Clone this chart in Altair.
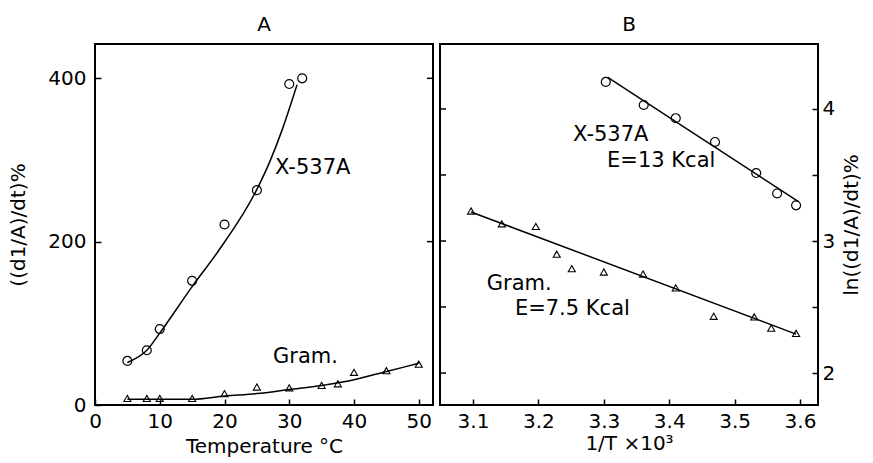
import altair as alt
import pandas as pd

FONT = "DejaVu Sans"

# ---------------- Panel A : rate vs temperature ----------------
a_x537_temp = [5, 8, 10, 15, 20, 25, 30, 32]
a_x537_rate = [54, 67, 93, 152, 221, 263, 393, 400]
a_x537_fit_temp = [5, 8, 10, 15, 19, 25, 27, 29, 31.2]
a_x537_fit_rate = [52, 67, 88, 145, 188, 264, 298, 339, 392]

a_gram_temp = [5, 8, 10, 15, 20, 25, 30, 35, 37.5, 40, 45, 50]
a_gram_rate = [8, 8, 8, 8, 14, 22, 21, 24, 26, 40, 42, 50]
a_gram_fit_temp = [5, 10, 15, 20, 25, 30, 35, 40, 45, 50]
a_gram_fit_rate = [7, 7, 7, 11, 14, 19, 24, 31, 41, 51]

a_x_ticks = [0, 10, 20, 30, 40, 50]
a_y_ticks = [0, 200, 400]

# ---------------- Panel B : Arrhenius plot ----------------
b_x537_invT = [3.303, 3.361, 3.410, 3.470, 3.533, 3.565, 3.594]
b_x537_ln = [4.205, 4.03, 3.93, 3.75, 3.515, 3.36, 3.27]
b_x537_fit_invT = [3.306, 3.597]
b_x537_fit_ln = [4.24, 3.30]

b_gram_invT = [3.097, 3.144, 3.196, 3.228, 3.251, 3.30, 3.36, 3.41, 3.468, 3.53, 3.556, 3.594]
b_gram_ln = [3.227, 3.13, 3.11, 2.90, 2.79, 2.765, 2.75, 2.645, 2.43, 2.425, 2.34, 2.30]
b_gram_fit_invT = [3.097, 3.594]
b_gram_fit_ln = [3.22, 2.295]

b_x_ticks = [3.1, 3.2, 3.3, 3.4, 3.5, 3.6]
b_y_ticks = [2, 2.5, 3, 3.5, 4]

W_A, W_B, H = 338, 378, 361
TICK = 6
LW = 1.5

def df(x, y):
    return pd.DataFrame({"x": x, "y": y})

# ---------------- encodings panel A ----------------
ax = alt.X("x:Q", scale=alt.Scale(domain=[0, 52.2], nice=False, zero=False),
           axis=alt.Axis(values=a_x_ticks, title="Temperature °C", format="d",
                         offset=-TICK, tickSize=TICK, domain=False, grid=False,
                         labelFlush=False, labelPadding=6, titlePadding=5))
ay = alt.Y("y:Q", scale=alt.Scale(domain=[0, 442], nice=False, zero=False),
           axis=alt.Axis(values=a_y_ticks, title="((d1/A)/dt)%", format="d",
                         offset=-TICK, tickSize=TICK, domain=False, grid=False,
                         labelFlush=False, labelPadding=9, titlePadding=19, titleAngle=270))

a_pts1 = alt.Chart(df(a_x537_temp, a_x537_rate)).mark_point(
    shape="circle", filled=False, color="black", size=80, strokeWidth=1.2, opacity=1
).encode(x=ax, y=ay)
a_fit1 = alt.Chart(df(a_x537_fit_temp, a_x537_fit_rate)).mark_line(
    color="black", strokeWidth=LW, interpolate="monotone"
).encode(x=ax, y=ay, order="x:Q")
a_pts2 = alt.Chart(df(a_gram_temp, a_gram_rate)).mark_point(
    shape="triangle-up", filled=False, color="black", size=50, strokeWidth=1.1, opacity=1
).encode(x=ax, y=ay)
a_fit2 = alt.Chart(df(a_gram_fit_temp, a_gram_fit_rate)).mark_line(
    color="black", strokeWidth=LW, interpolate="monotone"
).encode(x=ax, y=ay, order="x:Q")
a_rticks = alt.Chart(pd.DataFrame({"y": a_y_ticks})).mark_rule(
    color="black", strokeWidth=LW
).encode(y=ay, x=alt.value(W_A - TICK), x2=alt.value(W_A))

def label(txt, x, y):
    return alt.Chart(pd.DataFrame({"t": [txt]})).mark_text(
        align="left", baseline="middle", font=FONT, fontSize=21, color="black"
    ).encode(x=alt.datum(x), y=alt.datum(y), text="t:N")

a_lab1 = label("X-537A", 27.8, 290)
a_lab2 = label("Gram.", 27.5, 59)

title_kw = dict(fontSize=20, font=FONT, fontWeight="normal", offset=9, anchor="middle", color="black")

left = alt.layer(a_fit1, a_fit2, a_pts1, a_pts2, a_rticks, a_lab1, a_lab2).properties(
    width=W_A, height=H, title=alt.TitleParams("A", **title_kw))

# ---------------- encodings panel B ----------------
bx = alt.X("x:Q", scale=alt.Scale(domain=[3.0495, 3.6275], nice=False, zero=False),
           axis=alt.Axis(values=b_x_ticks, title="1/T ×10³", format=".1f",
                         offset=-TICK, tickSize=TICK, domain=False, grid=False,
                         labelFlush=False, labelPadding=6, titlePadding=2))
by = alt.Y("y:Q", scale=alt.Scale(domain=[1.758, 4.492], nice=False, zero=False),
           axis=alt.Axis(values=b_y_ticks, title="ln((d1/A)/dt)%", orient="right",
                         labelExpr="datum.value % 1 == 0 ? format(datum.value, 'd') : ''",
                         offset=-TICK, tickSize=TICK, domain=False, grid=False,
                         labelFlush=False, labelPadding=4, titlePadding=27, titleAngle=270))

b_pts1 = alt.Chart(df(b_x537_invT, b_x537_ln)).mark_point(
    shape="circle", filled=False, color="black", size=80, strokeWidth=1.2, opacity=1
).encode(x=bx, y=by)
b_fit1 = alt.Chart(df(b_x537_fit_invT, b_x537_fit_ln)).mark_line(
    color="black", strokeWidth=LW
).encode(x=bx, y=by)
b_pts2 = alt.Chart(df(b_gram_invT, b_gram_ln)).mark_point(
    shape="triangle-up", filled=False, color="black", size=50, strokeWidth=1.1, opacity=1
).encode(x=bx, y=by)
b_fit2 = alt.Chart(df(b_gram_fit_invT, b_gram_fit_ln)).mark_line(
    color="black", strokeWidth=LW
).encode(x=bx, y=by)
b_lticks = alt.Chart(pd.DataFrame({"y": b_y_ticks})).mark_rule(
    color="black", strokeWidth=LW
).encode(y=by, x=alt.value(0), x2=alt.value(TICK))

b_lab1 = label("X-537A", 3.253, 3.803)
b_lab2 = label("E=13 Kcal", 3.305, 3.606)
b_lab3 = label("Gram.", 3.121, 2.674)
b_lab4 = label("E=7.5 Kcal", 3.164, 2.485)

right = alt.layer(b_fit1, b_fit2, b_pts1, b_pts2, b_lticks,
                  b_lab1, b_lab2, b_lab3, b_lab4).properties(
    width=W_B, height=H, title=alt.TitleParams("B", **title_kw))

chart = alt.hconcat(left, right, spacing=3).properties(
    padding={"left": 7, "top": 14, "right": 2, "bottom": 2},
    background="white",
).configure_view(
    stroke="black", strokeWidth=2
).configure_axis(
    labelFont=FONT, titleFont=FONT, labelFontSize=20, titleFontSize=20,
    labelColor="black", titleColor="black", tickColor="black", tickWidth=LW,
    titleFontWeight="normal",
)

chart.save("out.html", embed_options={"renderer": "svg", "actions": False})
